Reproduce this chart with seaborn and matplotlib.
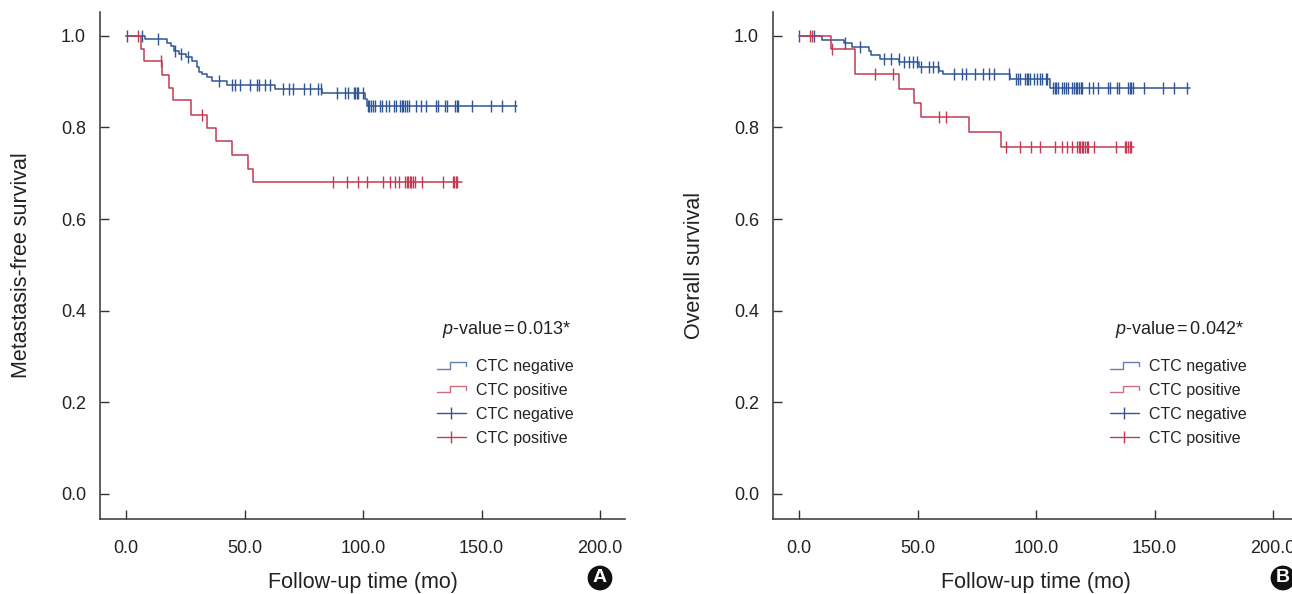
import numpy as np
import pandas as pd
import matplotlib
matplotlib.use("Agg")
import matplotlib.pyplot as plt
import seaborn as sns
from matplotlib.lines import Line2D
from matplotlib.legend_handler import HandlerBase

# Panel A: metastasis-free survival (step times / survival levels)
a_neg_t = [0, 8.0, 17.2, 19.0, 20.3, 22.4, 25.3, 27.7, 29.8, 30.9, 31.9, 34.0, 36.2, 42.5, 62.9, 82.6, 100.8, 101.5, 164.8]
a_neg_s = [1.0, 0.993, 0.985, 0.977, 0.966, 0.960, 0.953, 0.944, 0.933, 0.922, 0.917, 0.910, 0.902, 0.893, 0.884, 0.875, 0.862, 0.847, 0.847]
a_neg_cens = [0.3, 6.6, 13.3, 20.6, 23.2, 26.3, 39.2, 44.6, 46.0, 48.1, 52.3, 55.1, 56.2, 58.6, 60.8,
              66.1, 68.9, 70.6, 74.9, 77.8, 80.9, 82.3, 88.9, 92.4, 93.8, 96.2, 96.7, 97.3, 97.8, 100.1,
              102.0, 102.5, 103.2, 104.1, 105.1, 107.2, 107.9, 109.7, 111.1, 113.1, 113.8, 115.6, 116.3,
              117.0, 117.7, 118.4, 119.4, 122.4, 124.3, 126.5, 130.8, 131.4, 134.7, 135.3, 138.8, 139.5,
              140.2, 145.9, 153.9, 158.4, 164.1]
a_pos_t = [0, 6.3, 7.5, 15.1, 18.2, 19.7, 27.3, 34.0, 37.8, 44.6, 51.6, 53.7, 141.6]
a_pos_s = [1.0, 0.972, 0.944, 0.915, 0.886, 0.859, 0.828, 0.798, 0.771, 0.740, 0.710, 0.681, 0.681]
a_pos_cens = [4.9, 14.8, 32.2, 87.5, 93.1, 98.0, 101.8, 108.3, 111.4, 113.5, 115.1, 117.7, 118.4, 119.0,
              119.7, 120.4, 121.1, 121.9, 125.0, 133.9, 137.8, 138.5, 139.2, 139.8]

# Panel B: overall survival
b_neg_t = [0, 9.6, 19.0, 22.5, 29.3, 30.3, 34.2, 42.3, 50.7, 59.2, 60.6, 89.0, 105.7, 164.9]
b_neg_s = [1.0, 0.991, 0.984, 0.975, 0.967, 0.958, 0.949, 0.942, 0.933, 0.923, 0.916, 0.905, 0.885, 0.885]
b_neg_cens = [0.0, 6.3, 19.2, 25.7, 35.9, 38.8, 42.0, 44.4, 46.2, 47.9, 49.6, 51.5, 54.7, 56.4, 58.5,
              65.5, 68.8, 70.5, 74.4, 77.5, 80.1, 82.1, 88.4, 91.6, 92.3, 93.0, 95.3, 96.0, 96.7, 97.4,
              99.0, 100.4, 101.8, 102.5, 104.0, 104.6, 107.1, 107.8, 108.2, 109.2, 111.1, 111.6, 112.5,
              113.5, 115.3, 116.0, 116.7, 117.4, 118.1, 118.8, 119.4, 122.2, 124.0, 126.1, 130.4, 131.1,
              134.3, 134.9, 138.8, 139.5, 140.2, 140.9, 145.6, 153.6, 158.1, 163.8]
b_pos_t = [0, 13.5, 23.7, 42.3, 48.6, 51.5, 71.6, 85.3, 141.2]
b_pos_s = [1.0, 0.972, 0.916, 0.883, 0.854, 0.822, 0.790, 0.757, 0.757]
b_pos_cens = [4.5, 5.6, 13.8, 32.1, 39.7, 59.2, 62.0, 87.1, 93.0, 97.9, 101.8, 108.0, 111.1, 113.2,
              115.3, 117.3, 117.9, 118.5, 119.2, 119.9, 120.6, 121.3, 121.9, 124.6, 133.9, 137.4,
              138.1, 138.8, 139.5, 140.2]

x_ticks = [0, 50, 100, 150, 200]
y_ticks = [0.0, 0.2, 0.4, 0.6, 0.8, 1.0]
groups = ["CTC negative", "CTC positive"]
blue = "#2f5596"
red = "#c23b53"

sns.set_style("ticks")
plt.rcParams["font.family"] = ["Liberation Sans", "DejaVu Sans"]
plt.rcParams["mathtext.fontset"] = "custom"
plt.rcParams["mathtext.it"] = "Liberation Sans:italic"
plt.rcParams["mathtext.rm"] = "Liberation Sans"


class StepHandler(HandlerBase):
    # small step-shaped legend key
    def create_artists(self, legend, orig_handle, xdescent, ydescent, width, height, fontsize, trans):
        xs = np.array([0, 0.45, 0.45, 1.0, 1.0]) * width - xdescent
        ys = np.array([0.2, 0.2, 0.75, 0.75, 0.45]) * height - ydescent
        ln = Line2D(xs, ys, color=orig_handle.get_color(), lw=1.0, alpha=0.75, transform=trans)
        return [ln]


def km_panel(ax, neg_t, neg_s, neg_c, pos_t, pos_s, pos_c, ylabel, ptxt):
    for t, s, c, col, name in [(neg_t, neg_s, neg_c, blue, groups[0]), (pos_t, pos_s, pos_c, red, groups[1])]:
        df = pd.DataFrame({"time": t, "surv": s})
        sns.lineplot(data=df, x="time", y="surv", drawstyle="steps-post", color=col,
                     lw=1.1, estimator=None, sort=False, ax=ax)
        idx = np.searchsorted(np.array(t), np.array(c), side="right") - 1
        cy = np.array(s)[idx]
        ax.plot(c, cy, linestyle="none", marker="|", markersize=9, mew=1.0, color=col)

    ax.set_xlim(-11, 210.5)
    ax.set_ylim(-0.055, 1.052)
    ax.set_xticks(x_ticks)
    ax.set_xticklabels([f"{v:.1f}" for v in x_ticks])
    ax.set_yticks(y_ticks)
    ax.set_yticklabels([f"{v:.1f}" for v in y_ticks])
    ax.tick_params(axis="both", direction="in", length=6.5, width=1.0, colors="#333333",
                   labelsize=13, labelcolor="#222222")
    ax.tick_params(axis="x", pad=15)
    ax.tick_params(axis="y", pad=10)
    sns.despine(ax=ax)
    for sp in ["left", "bottom"]:
        ax.spines[sp].set_color("#444444")
        ax.spines[sp].set_linewidth(1.2)
    ax.set_xlabel("Follow-up time (mo)", fontsize=15.5, color="#222222", labelpad=11)
    ax.set_ylabel(ylabel, fontsize=15.5, color="#222222", labelpad=21)

    ax.text(0.651, 0.374, ptxt, transform=ax.transAxes, fontsize=13, color="#222222",
            ha="left", va="center")
    h1 = Line2D([], [], color=blue)
    h2 = Line2D([], [], color=red)
    h3 = Line2D([], [], color=blue, marker="|", markersize=9, mew=1.0, lw=1.0)
    h4 = Line2D([], [], color=red, marker="|", markersize=9, mew=1.0, lw=1.0)
    ax.legend([h1, h2, h3, h4], groups + groups, loc="upper left", bbox_to_anchor=(0.642, 0.316),
              frameon=False, fontsize=11.5, handlelength=1.8, handletextpad=0.65, labelspacing=0.56,
              borderpad=0, borderaxespad=0, numpoints=1, labelcolor="#222222",
              handler_map={h1: StepHandler(), h2: StepHandler()})


fig = plt.figure(figsize=(12.92, 5.94), dpi=100)
ax_a = fig.add_axes([100 / 1292, 75 / 594, 525 / 1292, 507 / 594])
ax_b = fig.add_axes([773 / 1292, 75 / 594, 525 / 1292, 507 / 594])

km_panel(ax_a, a_neg_t, a_neg_s, a_neg_cens, a_pos_t, a_pos_s, a_pos_cens,
         "Metastasis-free survival", r"$p$-value$\,$=$\,$0.013*")
km_panel(ax_b, b_neg_t, b_neg_s, b_neg_cens, b_pos_t, b_pos_s, b_pos_cens,
         "Overall survival", r"$p$-value$\,$=$\,$0.042*")

for lab, xp in [("A", 600), ("B", 1283)]:
    fig.text(xp / 1292, 1 - 578 / 594, lab, color="white", fontsize=14, fontweight="bold",
             ha="center", va="center",
             bbox=dict(boxstyle="circle,pad=0.2", fc="#111111", ec="none"))

fig.savefig("out.png", dpi=100)
